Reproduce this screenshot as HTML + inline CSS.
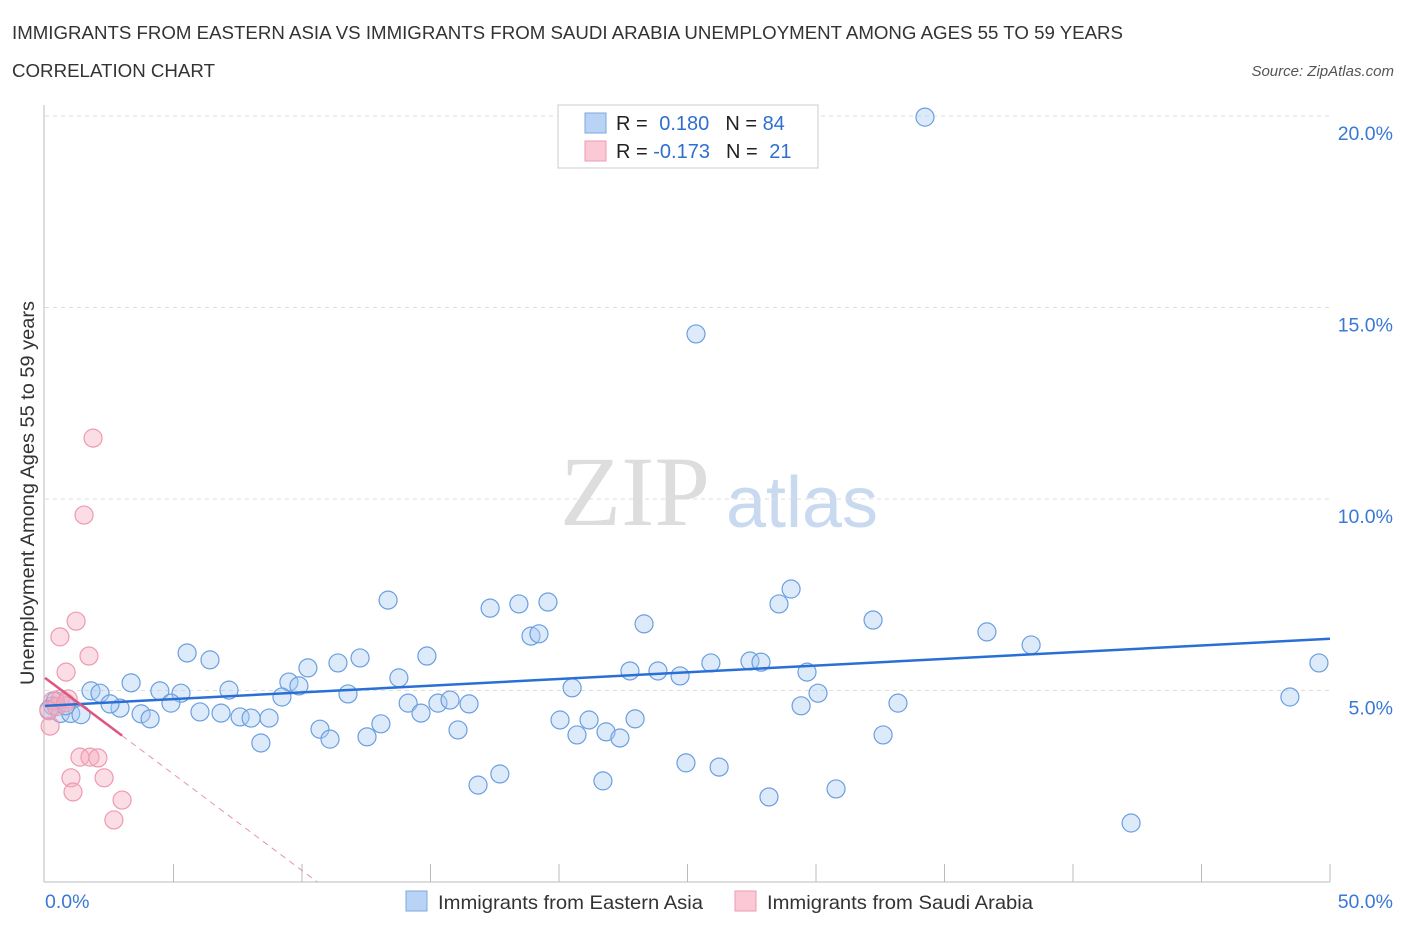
<!DOCTYPE html>
<html><head><meta charset="utf-8"><style>
body{margin:0;background:#fff;font-family:"Liberation Sans",sans-serif}
</style></head><body>
<svg id="chart" width="1406" height="930" xmlns="http://www.w3.org/2000/svg" font-family="Liberation Sans, sans-serif">
<text x="12" y="39" font-size="18" fill="#333" textLength="1111" lengthAdjust="spacingAndGlyphs">IMMIGRANTS FROM EASTERN ASIA VS IMMIGRANTS FROM SAUDI ARABIA UNEMPLOYMENT AMONG AGES 55 TO 59 YEARS</text>
<text x="12" y="77" font-size="18" fill="#333" textLength="203" lengthAdjust="spacingAndGlyphs">CORRELATION CHART</text>
<text x="1394" y="76" font-size="15" fill="#555" font-style="italic" text-anchor="end">Source: ZipAtlas.com</text>
<g>
<text x="635" y="525" font-size="100" fill="#ddd" style="font-family:'Liberation Serif',serif" text-anchor="middle">ZIP</text>
<text x="802" y="527" font-size="72" fill="#c9daf0" text-anchor="middle">atlas</text>
</g>
<g id="grid"></g>
<g id="axes"></g>
<g id="marks"></g>
<text transform="translate(34,493) rotate(-90)" font-size="19" fill="#333" text-anchor="middle" textLength="384" lengthAdjust="spacingAndGlyphs">Unemployment Among Ages 55 to 59 years</text>
<g>
<rect x="558" y="105" width="260" height="63" fill="#fff" stroke="#ccc"/>
<rect x="585" y="113" width="21" height="20" fill="#b9d3f5" stroke="#7ba7e3"/>
<rect x="585" y="141" width="21" height="20" fill="#fbc9d6" stroke="#ee9ab0"/>
<text x="616" y="130" font-size="20" fill="#222">R = <tspan fill="#2f6fd0" dx="6">0.180</tspan><tspan dx="16" fill="#222">N = </tspan><tspan fill="#2f6fd0">84</tspan></text>
<text x="616" y="158" font-size="20" fill="#222">R = <tspan fill="#2f6fd0">-0.173</tspan><tspan dx="16" fill="#222">N = </tspan><tspan fill="#2f6fd0" dx="6">21</tspan></text>
</g>
<g>
<rect x="406" y="891" width="21" height="20" fill="#b9d3f5" stroke="#7ba7e3"/>
<text x="438" y="909" font-size="19.5" fill="#333" textLength="265" lengthAdjust="spacingAndGlyphs">Immigrants from Eastern Asia</text>
<rect x="735" y="891" width="21" height="20" fill="#fbc9d6" stroke="#ee9ab0"/>
<text x="767" y="909" font-size="19.5" fill="#333" textLength="266" lengthAdjust="spacingAndGlyphs">Immigrants from Saudi Arabia</text>
</g>
</svg>
<script>
const blueX=[34.24,25.33,13.35,17.32,18.44,19.57,18.91,19.22,23.31,28.56,29.03,32.22,36.65,38.37,49.57,48.44,5.53,6.42,3.35,12.26,11.4,14.86,10.23,9.49,9.88,13.77,11.79,4.47,5.29,7.16,9.22,1.79,2.14,2.92,2.53,3.74,4.09,4.9,6.03,6.85,7.59,8.02,8.72,8.4,10.7,11.09,12.53,13.07,14.13,14.63,15.29,15.76,16.5,16.07,16.85,17.7,20.51,20.04,20.7,21.17,21.83,22.37,22.96,21.71,22.76,23.85,24.71,25.91,27.43,27.86,24.94,26.23,29.65,30.08,29.42,28.17,30.78,33.19,32.61,42.26,0.3,0.6,1.0,1.4,0.8,0.4,0.15];
const blueY=[19.97,14.31,7.36,7.15,7.26,7.31,6.42,6.48,6.74,7.26,7.65,6.84,6.53,6.19,5.72,4.83,5.98,5.8,5.2,5.85,5.72,5.9,5.59,5.22,5.12,5.33,4.91,4.99,4.93,5.01,4.83,4.99,4.93,4.54,4.65,4.39,4.26,4.67,4.44,4.41,4.31,4.28,4.28,3.63,3.99,3.73,3.79,4.13,4.67,4.41,4.67,4.75,4.65,3.97,2.53,2.82,5.07,4.23,3.84,4.23,3.92,3.76,4.26,2.64,5.51,5.51,5.38,5.72,5.77,5.74,3.11,3.0,5.48,4.93,4.6,2.22,2.43,4.67,3.84,1.54,4.6,4.4,4.4,4.37,4.6,4.73,4.5];
const pinkX=[1.87,1.52,1.21,0.58,1.71,0.82,0.2,1.36,1.75,2.06,1.01,2.3,1.09,3.0,2.68,0.3,0.6,0.9,0.15,0.45,0.8];
const pinkY=[11.59,9.58,6.81,6.4,5.9,5.48,4.07,3.26,3.26,3.24,2.72,2.72,2.35,2.14,1.62,4.73,4.78,4.78,4.47,4.58,4.68];
const blueTrend=[4.6,6.35];
const pinkTrend=[5.33,-0.503];
const yTicks=[5,10,15,20];
const xTickLabels=["0.0%","50.0%"];
const NS="http://www.w3.org/2000/svg";
const sx=v=>45+v*25.7, sy=v=>882-v*38.3;
function mk(tag,attrs,parent){const e=document.createElementNS(NS,tag);for(const k in attrs)e.setAttribute(k,attrs[k]);document.getElementById(parent).appendChild(e);return e;}
yTicks.forEach(t=>{
 const l=mk('line',{x1:45,x2:1330,y1:sy(t),y2:sy(t),stroke:'#ddd','stroke-dasharray':'4,4'},'grid');
 
 
 const tx=mk('text',{x:1393,y:sy(t)+24,'font-size':19.5,fill:'#3a78d4','text-anchor':'end'},'grid');
 tx.textContent=t.toFixed(1)+'%';
 
 
});
const ax=mk('line',{x1:44,x2:44,y1:105,y2:882,stroke:'#bbb'},'axes');


const bx=mk('line',{x1:44,x2:1330,y1:882,y2:882,stroke:'#bbb'},'axes');


for(let i=1;i<=10;i++){const t=mk('line',{x1:sx(i*5),x2:sx(i*5),y1:864,y2:882,stroke:'#bbb'},'axes');
 
 }
[[0,xTickLabels[0],'start',45],[50,xTickLabels[1],'end',1393]].forEach(a=>{
 const t=mk('text',{x:a[3],y:908,'font-size':19.5,fill:'#3a78d4','text-anchor':a[2]},'axes');t.textContent=a[1];
 
 });
blueX.forEach((x,i)=>{const c=mk('circle',{cx:sx(x),cy:sy(blueY[i]),r:9,fill:'rgba(170,202,242,0.4)',stroke:'#6a9fe0','stroke-width':1.2},'marks');
 
 });
pinkX.forEach((x,i)=>{const c=mk('circle',{cx:sx(x),cy:sy(pinkY[i]),r:9,fill:'rgba(245,170,190,0.4)',stroke:'#ee9ab0','stroke-width':1.2},'marks');
 
 });
const bt=mk('line',{x1:sx(0),y1:sy(blueTrend[0]),x2:sx(50),y2:sy(blueTrend[1]),stroke:'#2a6fd6','stroke-width':2.5},'marks');


const pe=-pinkTrend[0]/pinkTrend[1];
const pd=mk('line',{x1:sx(3),y1:sy(pinkTrend[0]+pinkTrend[1]*3),x2:sx(pe),y2:sy(0),stroke:'#e891aa','stroke-width':1,'stroke-dasharray':'6,5'},'marks');


const pt=mk('line',{x1:sx(0),y1:sy(pinkTrend[0]),x2:sx(3),y2:sy(pinkTrend[0]+pinkTrend[1]*3),stroke:'#e0557f','stroke-width':2.5},'marks');


</script>
</body></html>
